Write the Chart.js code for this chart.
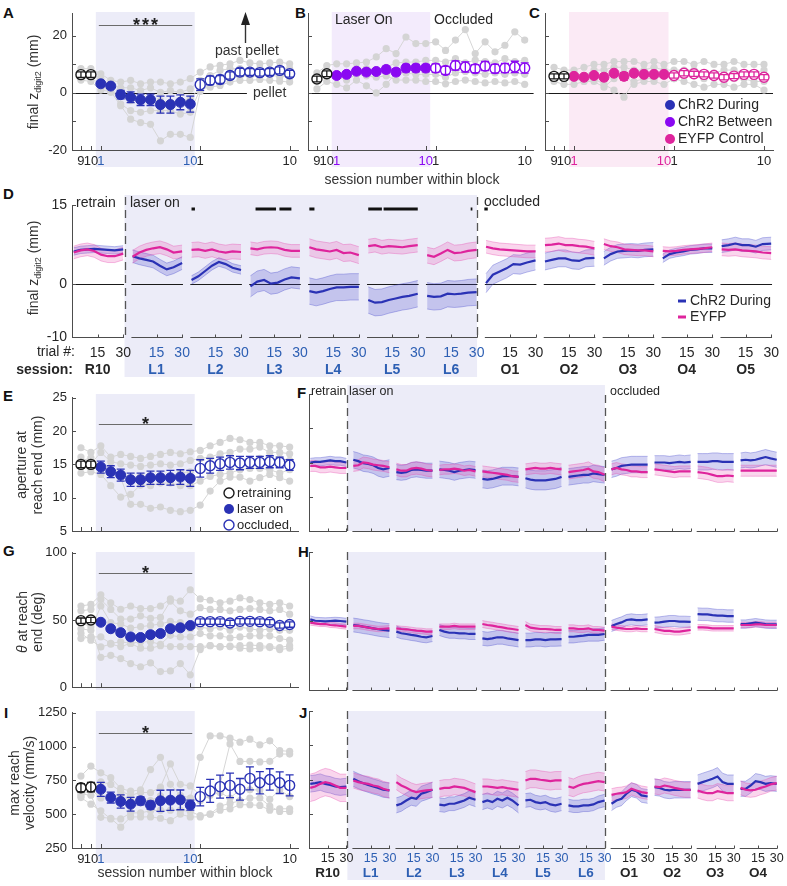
<!DOCTYPE html>
<html>
<head>
<meta charset="utf-8">
<script src="https://cdn.jsdelivr.net/npm/chart.js@4.4.1/dist/chart.umd.min.js"></script>
<style>
  html, body { margin: 0; padding: 0; background: #fff; }
  #fig { position: relative; width: 787px; height: 886px; overflow: hidden; font-family: Arial, "Liberation Sans", sans-serif; }
  #fig canvas { position: absolute; }
  .lt { position: absolute; font-weight: bold; font-size: 15px; line-height: 15px; color: #111; }
</style>
</head>
<body>
<div id="fig">
  <div class="lt" style="left:3px;top:5px">A</div>
  <div class="lt" style="left:295px;top:5px">B</div>
  <div class="lt" style="left:529px;top:5px">C</div>
  <div class="lt" style="left:3px;top:186px">D</div>
  <div class="lt" style="left:3px;top:388px">E</div>
  <div class="lt" style="left:297px;top:385px">F</div>
  <div class="lt" style="left:3px;top:543px">G</div>
  <div class="lt" style="left:298px;top:544px">H</div>
  <div class="lt" style="left:4px;top:705px">I</div>
  <div class="lt" style="left:299px;top:705px">J</div>
</div>
<script>
// ---- session axis: 0-1 retraining, 2-11 laser on, 12-21 occluded
const SESSION_TICKS = [0, 1, 2, 11, 12, 21];
const SESSION_TICK_LABELS = ['9', '10', '1', '10', '1', '10'];

// A: final z digit2 (mm), ChR2 During
const A_GRAY = [
  [8.5, 8.5, 6.7, 4.4, 3.8, 4.4, 3.2, 3.8, 3.8, 3.2, 3.8, 5.0, 7.3, 9.1, 9.7, 10.2, 11.4, 10.5, 10.2, 10.5, 10.8, 10.2],
  [6.0, 7.0, 5.0, 2.6, 1.8, 1.8, 0.8, 1.8, 0.2, 0.8, 0.2, 1.4, 4.4, 6.1, 7.9, 8.5, 8.5, 8.1, 8.5, 8.2, 8.8, 8.5],
  [5.0, 5.5, 2.6, 0.2, -1.0, -2.7, -2.7, -2.7, -2.7, -3.3, -2.7, -2.1, 2.0, 3.2, 4.4, 5.6, 6.1, 5.8, 6.1, 6.4, 5.6, 6.1],
  [7.0, 6.5, 4.4, 2.0, -3.9, -6.2, -6.8, -6.2, -6.2, -6.2, -7.4, -6.8, 1.4, 2.0, 2.6, 3.8, 4.4, 4.4, 4.7, 4.4, 4.1, 3.8],
  [4.5, 4.0, 1.0, 0.5, -4.5, -9.2, -10.4, -11.0, -16.8, -14.5, -14.5, -15.6, 0.5, 3.5, 4.0, 5.5, 5.8, 6.4, 6.0, 6.4, 6.7, 5.3]
];
const A_RETRAIN = [6.4, 6.4];
const A_RETRAIN_ERR = [1.0, 1.0];
const A_LASER = [3.2, 2.4, -0.6, -1.5, -2.4, -2.4, -4.1, -4.1, -3.3, -3.9];
const A_LASER_ERR = [0.8, 0.8, 1.5, 1.9, 2.0, 2.0, 3.0, 3.0, 2.6, 2.8];
const A_OCCL = [2.9, 4.4, 4.7, 6.1, 7.3, 7.3, 7.1, 7.3, 7.9, 6.7];
const A_OCCL_ERR = [2.0, 1.5, 1.4, 1.3, 1.3, 1.2, 1.2, 1.2, 1.2, 1.2];

// B: ChR2 Between
const B_GRAY = [
  [7.0, 9.6, 10.2, 10.2, 10.5, 10.8, 12.6, 15.5, 13.8, 19.6, 17.3, 17.3, 17.9, 14.9, 18.5, 22.2, 13.8, 17.9, 14.4, 16.7, 21.4, 18.5],
  [5.0, 7.5, 6.0, 7.0, 8.0, 8.5, 8.0, 9.0, 10.5, 10.8, 10.8, 11.4, 11.4, 10.8, 12.0, 10.5, 11.5, 11.0, 10.5, 12.0, 11.0, 11.4],
  [1.4, 4.0, 3.0, 1.8, 4.5, 2.5, 0.0, 3.0, 7.0, 7.0, 6.5, 6.5, 6.5, 5.5, 7.0, 7.5, 7.0, 6.5, 7.0, 6.5, 7.0, 6.5],
  [4.5, 6.0, 5.5, 4.5, 6.5, 6.0, 5.5, 6.0, 4.5, 4.5, 4.5, 4.0, 4.0, 3.2, 4.0, 4.5, 4.0, 3.5, 4.0, 3.5, 4.0, 3.0]
];
const B_RETRAIN = [4.9, 6.7];
const B_RETRAIN_ERR = [1.0, 1.0];
const B_LASER = [6.1, 6.5, 7.6, 7.3, 7.5, 8.2, 7.3, 8.7, 8.7, 8.7];
const B_LASER_ERR = [0.9, 0.9, 1.0, 1.0, 1.0, 1.2, 1.2, 1.3, 1.3, 1.3];
const B_OCCL = [8.7, 7.9, 9.6, 9.1, 8.5, 9.4, 8.5, 8.7, 9.1, 8.7];
const B_OCCL_ERR = [1.5, 1.4, 1.6, 1.8, 1.4, 1.6, 1.5, 1.6, 2.0, 1.8];

// C: EYFP Control
const C_GRAY = [
  [9.0, 8.0, 8.0, 9.0, 10.0, 10.0, 11.0, 11.0, 11.0, 10.0, 11.0, 10.0, 11.0, 11.0, 10.0, 11.0, 10.0, 10.0, 11.0, 10.0, 10.0, 10.0],
  [4.0, 3.0, 3.0, 4.0, 4.0, 2.0, 5.0, 7.0, 3.0, 4.0, 4.0, 3.0, 5.0, 4.0, 3.0, 2.0, 3.0, 3.0, 2.0, 3.0, 3.0, 1.0],
  [6.0, 6.0, 7.0, 6.0, 8.0, 8.0, 9.0, 9.0, 8.0, 8.0, 9.0, 8.0, 8.0, 8.0, 8.0, 7.0, 7.0, 8.0, 8.0, 7.0, 7.0, 8.0],
  [5.0, 6.0, 5.0, 4.0, 5.0, 3.0, 1.0, -1.5, 4.0, 5.0, 5.0, 6.0, 5.0, 6.0, 6.0, 5.0, 6.0, 5.0, 5.0, 5.0, 4.0, 4.0]
];
const C_RETRAIN = [5.8, 5.8];
const C_RETRAIN_ERR = [0.9, 0.9];
const C_LASER = [5.8, 5.5, 6.1, 5.5, 6.9, 5.8, 6.9, 6.5, 6.5, 6.5];
const C_LASER_ERR = [0.8, 0.8, 0.9, 1.2, 0.9, 1.3, 0.8, 0.8, 0.8, 0.8];
const C_OCCL = [6.1, 6.9, 6.7, 6.5, 6.1, 5.5, 5.9, 6.5, 6.5, 5.5];
const C_OCCL_ERR = [0.9, 0.9, 0.9, 0.9, 0.9, 0.9, 0.9, 0.9, 0.9, 0.9];

// E: aperture at reach end (mm)
const E_GRAY = [
  [17.5, 16.8, 17.8, 16.1, 16.5, 16.2, 15.9, 16.2, 16.5, 16.8, 16.6, 16.9, 17.1, 17.8, 18.3, 18.9, 18.7, 18.3, 18.3, 17.8, 17.8, 17.6],
  [16.1, 15.1, 16.8, 15.4, 15.1, 14.9, 14.7, 14.9, 15.1, 14.9, 15.1, 15.6, 15.9, 16.1, 16.6, 16.8, 17.3, 17.3, 17.6, 16.8, 16.8, 16.6],
  [14.7, 14.4, 14.4, 13.9, 13.5, 13.0, 13.2, 13.2, 13.3, 13.2, 13.7, 13.9, 14.4, 14.7, 14.9, 15.1, 15.4, 15.6, 15.9, 15.6, 15.9, 15.6],
  [13.7, 13.9, 13.5, 11.8, 10.1, 10.5, 11.9, 11.8, 12.2, 12.2, 11.8, 11.8, 12.5, 13.2, 13.5, 13.7, 14.2, 14.4, 14.4, 14.2, 13.7, 14.2],
  [15.5, 16.0, 14.4, 14.2, 13.0, 9.0, 9.0, 8.4, 8.6, 8.1, 7.9, 8.1, 8.9, 11.0, 12.5, 13.1, 13.1, 12.5, 13.0, 13.5, 13.0, 12.5]
];
const E_RETRAIN = [15.0, 15.0];
const E_RETRAIN_ERR = [0.5, 0.5];
const E_LASER = [14.6, 13.9, 13.4, 12.7, 12.7, 13.0, 13.0, 13.0, 13.1, 12.9];
const E_LASER_ERR = [0.9, 0.9, 0.9, 1.0, 1.0, 1.0, 1.0, 1.1, 1.1, 1.2];
const E_OCCL = [14.4, 14.8, 15.1, 15.3, 15.2, 15.3, 15.3, 15.4, 15.3, 14.9];
const E_OCCL_ERR = [1.3, 1.1, 1.0, 1.0, 1.0, 0.9, 0.9, 0.9, 0.8, 0.8];

// G: theta at reach end (deg)
const G_GRAY = [
  [60.4, 61.6, 68.8, 62.8, 58.0, 60.4, 58.5, 58.5, 60.4, 65.7, 64.0, 72.5, 65.7, 64.7, 62.8, 64.0, 66.4, 65.2, 62.8, 61.6, 62.8, 60.4],
  [56.8, 57.9, 65.2, 57.9, 50.7, 50.7, 53.1, 51.2, 51.9, 64.0, 56.8, 54.3, 59.2, 57.9, 57.9, 56.8, 57.9, 58.5, 57.9, 56.8, 57.9, 54.3],
  [43.5, 42.3, 60.4, 48.0, 47.0, 44.0, 45.0, 46.0, 47.0, 49.0, 48.0, 43.5, 44.7, 43.5, 44.7, 42.3, 44.7, 43.5, 42.3, 43.5, 42.3, 42.3],
  [36.2, 37.4, 37.4, 32.6, 33.8, 32.6, 33.8, 33.8, 31.9, 38.6, 37.4, 37.4, 39.9, 38.2, 38.2, 36.7, 37.4, 38.2, 38.2, 38.2, 36.2, 35.0],
  [40.0, 35.0, 30.0, 32.0, 30.2, 32.6, 29.0, 29.0, 30.9, 30.2, 30.2, 30.2, 30.2, 30.9, 30.2, 30.2, 30.9, 31.4, 30.9, 30.2, 29.5, 30.9],
  [48.0, 45.0, 22.2, 23.7, 21.3, 17.6, 15.2, 18.1, 11.6, 12.1, 17.6, 9.2, 28.0, 31.0, 30.0, 30.5, 29.0, 28.5, 29.0, 29.5, 28.0, 29.0]
];
const G_RETRAIN = [49.5, 50.0];
const G_RETRAIN_ERR = [2, 2];
const G_LASER = [48.3, 43.5, 40.6, 37.4, 37.0, 39.1, 39.9, 43.5, 44.2, 45.9];
const G_LASER_ERR = [2, 2, 2, 2, 2, 2, 2, 2, 2, 2];
const G_OCCL = [48.8, 48.8, 48.8, 47.8, 49.0, 49.0, 48.8, 48.3, 45.9, 46.6];
const G_OCCL_ERR = [2, 2, 2, 2, 2, 2, 2, 2, 2, 2];

// I: max reach velocity (mm/s)
const I_GRAY = [
  [782, 855, 806, 770, 691, 670, 680, 830, 921, 721, 640, 620, 921, 1079, 1079, 1062, 1033, 1055, 1013, 1043, 970, 965],
  [700, 720, 740, 720, 670, 640, 660, 660, 700, 872, 721, 709, 640, 680, 720, 1020, 890, 891, 887, 891, 945, 945],
  [635, 684, 620, 640, 640, 600, 600, 600, 635, 600, 600, 610, 600, 640, 660, 620, 680, 680, 680, 610, 680, 630],
  [623, 574, 525, 465, 465, 510, 510, 525, 530, 530, 530, 520, 489, 500, 530, 540, 570, 570, 565, 530, 540, 540],
  [650, 640, 477, 470, 404, 480, 480, 480, 470, 452, 500, 480, 480, 500, 560, 580, 600, 620, 620, 560, 520, 520]
];
const I_RETRAIN = [696, 701];
const I_RETRAIN_ERR = [30, 35];
const I_LASER = [684, 623, 594, 574, 599, 567, 599, 604, 606, 567];
const I_LASER_ERR = [52, 40, 49, 51, 29, 30, 78, 75, 73, 37];
const I_OCCL = [630, 672, 704, 713, 684, 765, 733, 757, 733, 713];
const I_OCCL_ERR = [69, 85, 85, 91, 80, 85, 82, 79, 80, 78];

// ---- trial-resolved panels: 8 samples per session, R10 | L1-L6 | O1-...
const TRIALS = [1, 5, 9, 13, 17, 21, 25, 30];
const D_SESSIONS = ['R10', 'L1', 'L2', 'L3', 'L4', 'L5', 'L6', 'O1', 'O2', 'O3', 'O4', 'O5'];
const FHJ_SESSIONS = ['R10', 'L1', 'L2', 'L3', 'L4', 'L5', 'L6', 'O1', 'O2', 'O3', 'O4'];

const D_CHR2 = [
  [6.2, 6.5, 6.6, 6.7, 6.6, 6.5, 6.4, 6.6],
  [5.3, 4.9, 4.6, 4.3, 3.5, 2.8, 3.2, 4.0],
  [0.8, 1.5, 2.5, 3.5, 4.2, 3.8, 3.1, 2.7],
  [-0.4, 0.5, 0.8, 0.1, 0.3, 0.9, 1.3, 1.1],
  [-1.3, -1.6, -1.3, -0.9, -0.6, -0.6, -0.5, -0.5],
  [-3.0, -3.5, -3.4, -3.0, -2.7, -2.4, -2.2, -1.8],
  [-2.2, -2.4, -2.3, -1.8, -1.9, -1.8, -1.6, -1.5],
  [0.2, 1.8, 2.4, 3.0, 3.8, 3.7, 4.1, 4.5],
  [4.3, 4.6, 4.9, 4.9, 4.5, 4.4, 4.9, 5.0],
  [4.9, 5.7, 6.2, 6.3, 6.4, 6.3, 6.5, 6.6],
  [4.9, 5.7, 6.0, 6.2, 6.5, 6.6, 6.8, 6.8],
  [7.2, 7.4, 7.7, 7.4, 7.4, 7.1, 7.6, 7.7]
];
const D_CHR2_SEM = [0.7, 1.2, 0.8, 2.0, 2.5, 2.5, 2.5, 1.8, 1.6, 1.3, 0.8, 1.2];
const D_EYFP = [
  [6.0, 6.4, 6.6, 6.3, 5.6, 5.3, 5.3, 5.8],
  [5.2, 6.0, 6.5, 6.8, 7.0, 6.6, 6.0, 6.2],
  [6.5, 6.6, 6.3, 6.6, 6.2, 6.0, 6.2, 6.1],
  [6.8, 6.6, 6.9, 7.0, 6.9, 6.5, 6.3, 6.3],
  [7.0, 6.6, 6.4, 6.2, 6.5, 5.9, 6.0, 5.5],
  [7.2, 7.4, 7.0, 7.2, 7.1, 7.0, 7.2, 7.4],
  [5.5, 5.2, 5.8, 6.5, 5.9, 6.0, 6.3, 6.5],
  [7.1, 6.8, 6.6, 6.5, 6.4, 6.3, 6.2, 6.2],
  [7.4, 7.5, 7.7, 7.4, 7.4, 7.2, 7.1, 6.8],
  [7.6, 7.2, 7.0, 6.6, 6.5, 6.4, 6.4, 6.2],
  [6.3, 6.2, 6.3, 6.5, 6.6, 6.7, 6.8, 7.0],
  [6.6, 6.5, 6.6, 6.4, 6.3, 6.2, 6.0, 5.9]
];
const D_EYFP_SEM = [1.2, 1.2, 1.4, 1.2, 1.6, 1.3, 1.5, 1.2, 1.3, 1.0, 0.8, 1.2];
// significant trial runs in D: [session index, first trial, last trial]
const D_SIG = [[2, 1, 3], [3, 4, 16], [3, 18, 25], [4, 1, 4], [5, 1, 9], [5, 10, 30], [6, 26.5, 27.5], [7, 0, 2]];

const F_CHR2 = [
  [15.0, 15.1, 15.1, 15.2, 15.3, 15.2, 15.2, 15.0],
  [15.4, 15.2, 14.9, 14.8, 14.6, 14.2, 14.0, 14.2],
  [13.6, 13.5, 13.6, 13.9, 14.0, 13.9, 13.8, 13.8],
  [14.0, 13.9, 13.8, 13.6, 13.8, 13.9, 14.0, 13.9],
  [12.6, 12.5, 12.6, 12.8, 13.0, 13.0, 13.0, 12.9],
  [12.7, 12.5, 12.4, 12.4, 12.4, 12.5, 12.6, 12.9],
  [12.9, 13.0, 13.1, 13.2, 13.2, 13.4, 13.3, 13.2],
  [14.0, 14.2, 14.5, 14.6, 14.7, 14.7, 14.7, 14.7],
  [15.0, 15.0, 15.0, 14.9, 15.0, 15.1, 15.0, 15.1],
  [15.1, 15.1, 15.1, 15.2, 15.2, 15.1, 15.1, 15.1],
  [15.3, 15.4, 15.3, 15.4, 15.6, 15.8, 15.6, 15.4]
];
const F_CHR2_SEM = [0.6, 1.2, 1.1, 1.2, 1.3, 1.4, 1.2, 1.2, 1.0, 1.2, 1.1];
const F_EYFP = [
  [14.5, 14.5, 14.3, 14.3, 14.4, 14.3, 14.2, 14.2],
  [14.5, 14.6, 15.0, 14.9, 14.7, 14.6, 14.5, 14.3],
  [14.0, 13.8, 13.8, 14.1, 14.2, 14.1, 13.9, 13.8],
  [13.9, 14.0, 14.0, 14.1, 14.0, 13.8, 13.9, 13.7],
  [13.7, 13.6, 13.5, 13.4, 13.3, 13.2, 13.0, 12.9],
  [14.0, 14.1, 14.2, 14.1, 14.1, 14.2, 14.1, 14.0],
  [13.6, 13.7, 13.8, 13.9, 14.1, 13.7, 13.6, 13.2],
  [14.0, 14.2, 14.0, 13.9, 13.7, 13.7, 13.6, 13.6],
  [14.0, 13.9, 13.8, 13.7, 13.6, 13.7, 13.7, 13.7],
  [13.6, 13.5, 13.4, 13.2, 13.0, 13.0, 13.1, 13.0],
  [13.8, 13.8, 13.8, 13.8, 13.8, 13.8, 13.8, 13.8]
];
const F_EYFP_SEM = [0.8, 0.8, 0.9, 0.7, 0.8, 0.8, 1.0, 0.8, 0.8, 0.9, 0.8];

const H_CHR2 = [
  [51.2, 50.2, 50.0, 49.8, 50.0, 50.2, 50.0, 49.5],
  [47.1, 46.6, 45.9, 45.4, 44.7, 44.0, 43.5, 43.0],
  [42.3, 41.1, 40.6, 39.9, 39.4, 38.6, 38.2, 39.1],
  [43.5, 42.3, 41.5, 41.5, 41.1, 41.1, 40.6, 40.6],
  [37.4, 36.9, 37.4, 38.2, 38.2, 37.4, 36.9, 36.2],
  [36.2, 36.2, 36.7, 36.7, 36.2, 36.7, 36.7, 36.9],
  [38.6, 38.6, 39.1, 39.4, 39.9, 39.9, 39.9, 40.6],
  [46.4, 47.8, 49.0, 50.7, 51.2, 50.7, 50.7, 51.2],
  [48.8, 49.0, 49.5, 50.0, 50.0, 49.5, 49.5, 49.3],
  [55.0, 54.8, 54.8, 54.3, 53.9, 53.9, 53.6, 53.6],
  [47.8, 47.8, 48.3, 48.8, 48.3, 47.8, 47.6, 47.6]
];
const H_CHR2_SEM = [2.5, 5, 4, 4, 5, 5, 4.5, 4, 4, 4.5, 3];
const H_EYFP = [
  [48.8, 48.3, 47.8, 47.8, 47.1, 46.9, 46.4, 45.9],
  [46.4, 46.4, 45.9, 45.2, 44.7, 44.2, 44.4, 44.7],
  [44.7, 44.2, 44.0, 43.5, 43.0, 42.8, 42.3, 42.3],
  [45.9, 45.9, 45.9, 46.4, 45.9, 45.9, 45.9, 45.9],
  [47.8, 47.1, 46.6, 45.9, 45.4, 44.7, 44.2, 43.5],
  [47.1, 45.2, 44.7, 44.2, 44.2, 44.0, 43.5, 43.5],
  [44.7, 44.7, 44.2, 44.2, 44.7, 43.5, 43.5, 43.0],
  [45.9, 45.2, 44.7, 44.2, 44.2, 44.7, 44.2, 44.2],
  [44.2, 43.5, 42.8, 42.8, 42.3, 42.3, 42.8, 43.5],
  [45.4, 45.4, 45.2, 44.7, 44.7, 44.7, 44.7, 44.7],
  [47.1, 47.1, 47.1, 47.6, 47.6, 47.1, 47.1, 47.1]
];
const H_EYFP_SEM = [1.8, 2, 2, 2, 2.5, 2.5, 2.5, 2, 2.5, 2, 2];

const J_CHR2 = [
  [718, 723, 731, 718, 711, 699, 694, 699],
  [755, 738, 723, 711, 699, 689, 675, 670],
  [561, 573, 597, 617, 609, 646, 658, 675],
  [566, 561, 573, 573, 585, 597, 617, 602],
  [585, 597, 585, 609, 597, 617, 597, 561],
  [597, 602, 585, 578, 585, 568, 561, 573],
  [561, 554, 554, 561, 561, 568, 585, 597],
  [573, 597, 609, 646, 675, 665, 634, 626],
  [694, 689, 675, 670, 675, 675, 675, 675],
  [718, 731, 743, 755, 772, 731, 718, 718],
  [682, 682, 706, 738, 731, 718, 723, 718]
];
const J_CHR2_SEM = [60, 55, 55, 50, 55, 50, 45, 50, 60, 65, 55];
const J_EYFP = [
  [689, 699, 718, 731, 723, 706, 689, 689],
  [743, 731, 723, 718, 706, 699, 682, 670],
  [731, 706, 689, 670, 658, 665, 670, 675],
  [682, 689, 689, 699, 694, 689, 675, 658],
  [699, 699, 694, 689, 694, 687, 682, 675],
  [743, 755, 755, 748, 743, 738, 743, 743],
  [699, 689, 706, 718, 723, 731, 738, 731],
  [638, 646, 650, 658, 682, 670, 658, 650],
  [699, 694, 706, 699, 689, 682, 675, 675],
  [670, 658, 650, 650, 665, 658, 650, 650],
  [689, 675, 670, 675, 689, 699, 714, 723]
];
const J_EYFP_SEM = [100, 55, 55, 60, 55, 65, 65, 45, 55, 55, 50];

// ---- styling
const FONT = 'Arial, "Liberation Sans", Helvetica, sans-serif';
const INK = '#262626';
const AXIS = '#4d4d4d';
const BLUE = '#2a32b5';
const PURPLE = '#8a08f2';
const MAGENTA = '#de249c';
const LASER_TXT = '#2d5fb3';
const GRAY_PT = '#d4d4d4';
const SHADE_BLUE = '#ececf8';
const SHADE_PURPLE = '#f3ebfc';
const SHADE_PINK = '#fbeaf5';
const BLUE_BAND = 'rgba(70, 72, 205, 0.24)';
const BLUE_EDGE = 'rgba(70, 72, 205, 0.45)';
const PINK_BAND = 'rgba(230, 70, 175, 0.22)';
const PINK_EDGE = 'rgba(230, 70, 175, 0.45)';
const SEG_STEP = 34.5;
const LASER_FROM = 30.75, LASER_TO = 6 * SEG_STEP + 30.25;

Chart.defaults.font.family = FONT;
Chart.defaults.color = INK;

const fig = document.getElementById('fig');
function place(id, left, top, w, h) {
  const c = document.createElement('canvas');
  c.id = 'c' + id; c.width = w; c.height = h;
  c.style.left = left + 'px'; c.style.top = top + 'px';
  c.style.width = w + 'px'; c.style.height = h + 'px';
  fig.appendChild(c);
  return c;
}

// fixes the chart area to box {l,t,r,b} inside a W x H canvas
function frame(W, H, box) {
  return {
    layout: { padding: { left: 0, top: box.t, right: W - box.r, bottom: 0 } },
    fitX: s => { s.height = H - box.b; },
    fitY: s => { s.width = box.l; }
  };
}

function txt(ctx, s, x, y, o = {}) {
  ctx.save();
  ctx.font = (o.italic ? 'italic ' : '') + (o.bold ? 'bold ' : '') + (o.size || 14) + 'px ' + FONT;
  ctx.fillStyle = o.color || INK;
  ctx.textAlign = o.align || 'left';
  ctx.textBaseline = o.base || 'middle';
  ctx.fillText(s, x, y);
  ctx.restore();
}

function seg(ctx, x0, y0, x1, y1, color, w, dash) {
  ctx.save();
  ctx.strokeStyle = color; ctx.lineWidth = w || 1;
  if (dash) ctx.setLineDash(dash);
  ctx.beginPath(); ctx.moveTo(x0, y0); ctx.lineTo(x1, y1); ctx.stroke();
  ctx.restore();
}

function dot(ctx, x, y, r, fill, stroke) {
  ctx.save();
  ctx.beginPath(); ctx.arc(x, y, r, 0, Math.PI * 2);
  if (fill) { ctx.fillStyle = fill; ctx.fill(); }
  if (stroke) { ctx.strokeStyle = stroke; ctx.lineWidth = 1.4; ctx.stroke(); }
  ctx.restore();
}

function yInnerTicks(ch) {
  const { ctx, chartArea: a, scales: { y } } = ch;
  y.ticks.forEach(t => {
    const py = Math.round(y.getPixelForValue(t.value)) + 0.5;
    seg(ctx, a.left, py, a.left + 4, py, AXIS, 1);
  });
}

// rotated y title, each line is a list of parts {t, italic, sub}
function yTitle(ctx, lines, cx, cy, size, gap) {
  ctx.save();
  ctx.translate(cx, cy); ctx.rotate(-Math.PI / 2);
  ctx.fillStyle = '#333'; ctx.textBaseline = 'middle'; ctx.textAlign = 'left';
  lines.forEach((parts, i) => {
    const yy = (i - (lines.length - 1) / 2) * gap;
    const fontOf = p => (p.italic ? 'italic ' : '') + (p.sub ? Math.round(size * 0.65) : size) + 'px ' + FONT;
    const widths = parts.map(p => { ctx.font = fontOf(p); return ctx.measureText(p.t).width; });
    let xx = -widths.reduce((a, b) => a + b, 0) / 2;
    parts.forEach((p, j) => {
      ctx.font = fontOf(p);
      ctx.fillText(p.t, xx, yy + (p.sub ? size * 0.3 : 0));
      xx += widths[j];
    });
  });
  ctx.restore();
}

function sigBar(ch, k0, k1, yv, stars) {
  const { ctx, scales: { x, y } } = ch;
  const py = Math.round(y.getPixelForValue(yv)) + 0.5;
  seg(ctx, x.getPixelForValue(k0), py, x.getPixelForValue(k1), py, '#6b6b6b', 1.2);
  const cx = x.getPixelForValue((k0 + k1) / 2);
  for (let i = 0; i < stars; i++) {
    txt(ctx, '*', cx + (i - (stars - 1) / 2) * 9, py + 5, { size: 18, bold: true, align: 'center', base: 'alphabetic', color: '#222' });
  }
}

// ---------- session-number panels
function sessionPanel(o) {
  const c = place(o.id, o.left, o.top, o.W, o.H);
  const f = frame(o.W, o.H, o.box);
  const pts = (vals, k0) => vals.map((v, i) => ({ x: k0 + i, y: v }));
  const datasets = o.gray.map(g => ({
    data: pts(g, 0), borderColor: '#d6d6d6', borderWidth: 1,
    pointRadius: 3.6, pointBackgroundColor: GRAY_PT, pointBorderWidth: 0, order: 9
  }));
  datasets.push(
    { data: pts(o.retrain, 0), errs: o.retrainErr, showLine: false, pointRadius: 5, pointBorderWidth: 1.4,
      pointBorderColor: '#1a1a1a', pointBackgroundColor: '#fff', borderColor: '#1a1a1a', order: 1 },
    { data: pts(o.laser, 2), errs: o.laserErr, showLine: false, pointRadius: 5, pointBorderWidth: 1,
      pointBorderColor: o.color, pointBackgroundColor: o.color, borderColor: o.color, order: 1 },
    { data: pts(o.occl, 12), errs: o.occlErr, showLine: false, pointRadius: 5, pointBorderWidth: 1.4,
      pointBorderColor: o.color, pointBackgroundColor: '#fff', borderColor: o.color, order: 1 }
  );
  return new Chart(c, {
    type: 'line',
    data: { datasets },
    options: {
      responsive: false, animation: false, events: [],
      layout: f.layout,
      plugins: { legend: { display: false }, tooltip: { enabled: false } },
      scales: {
        x: {
          type: 'linear', min: -0.9, max: 21.9, afterFit: f.fitX,
          afterBuildTicks: s => { s.ticks = SESSION_TICKS.map(v => ({ value: v })); },
          grid: { display: false, drawTicks: false },
          border: { display: true, color: AXIS },
          ticks: {
            display: o.xLabels, autoSkip: false, maxRotation: 0, padding: 4,
            font: { size: 13 },
            color: ctx => (ctx.index === 2 || ctx.index === 3) ? o.labelColor : INK,
            callback: (v, i) => SESSION_TICK_LABELS[i]
          }
        },
        y: {
          min: o.ymin, max: o.ymax, afterFit: f.fitY,
          afterBuildTicks: s => { s.ticks = o.yTicks.map(v => ({ value: v })); },
          grid: { display: false, drawTicks: false },
          border: { display: true, color: AXIS },
          ticks: {
            display: !!o.yLabels, padding: 5, font: { size: 13 }, color: INK,
            callback: v => (o.yLabels && o.yLabels.includes(v)) ? String(v) : ''
          }
        }
      }
    },
    plugins: [{
      id: 'session' + o.id,
      beforeDraw(ch) {
        const { ctx, scales: { x } } = ch;
        const x0 = x.getPixelForValue(1.5), x1 = x.getPixelForValue(11.45);
        ctx.save(); ctx.fillStyle = o.shade;
        ctx.fillRect(x0, o.shadeTop, x1 - x0, o.shadeBottom - o.shadeTop);
        ctx.restore();
      },
      beforeDatasetsDraw(ch) {
        if (o.zeroTo === undefined) return;
        const { ctx, chartArea: a, scales: { x, y } } = ch;
        const py = Math.round(y.getPixelForValue(0)) + 0.5;
        seg(ctx, a.left, py, x.getPixelForValue(o.zeroTo), py, '#1a1a1a', 1);
      },
      afterDatasetsDraw(ch) {
        const { ctx, scales: { x, y } } = ch;
        ch.data.datasets.forEach(d => {
          if (!d.errs) return;
          d.data.forEach((p, i) => {
            const px = x.getPixelForValue(p.x);
            const y0 = y.getPixelForValue(p.y - d.errs[i]);
            const y1 = y.getPixelForValue(p.y + d.errs[i]);
            ctx.save();
            ctx.strokeStyle = d.borderColor; ctx.lineWidth = 1.3;
            ctx.beginPath();
            ctx.moveTo(px, y0); ctx.lineTo(px, y1);
            ctx.moveTo(px - 4, y0); ctx.lineTo(px + 4, y0);
            ctx.moveTo(px - 4, y1); ctx.lineTo(px + 4, y1);
            ctx.stroke(); ctx.restore();
          });
        });
      },
      afterDraw(ch) {
        const { ctx, chartArea: a, scales: { x } } = ch;
        yInnerTicks(ch);
        SESSION_TICKS.forEach(k => {
          const px = Math.round(x.getPixelForValue(k)) + 0.5;
          seg(ctx, px, a.bottom, px, a.bottom - 4, AXIS, 1);
        });
        if (o.after) o.after(ch);
      }
    }]
  });
}

// ---------- trial-resolved panels
function segmentPanel(o) {
  const c = place(o.id, o.left, o.top, o.W, o.H);
  const f = frame(o.W, o.H, o.box);
  const nSeg = o.chr2.length;
  const track = (vals, sem, sign) => {
    const out = [];
    vals.forEach((sv, s) => {
      sv.forEach((v, i) => out.push({ x: s * SEG_STEP + TRIALS[i], y: sem ? v + sign * sem[s] : v }));
      out.push({ x: s * SEG_STEP + 32, y: null });
    });
    return out;
  };
  const line = (data, color, w, order, extra) =>
    Object.assign({ data, borderColor: color, borderWidth: w, pointRadius: 0, fill: false, order }, extra || {});
  const datasets = [
    line(track(o.chr2, o.chr2Sem, 1), BLUE_EDGE, 0.8, 4, { fill: '+1', backgroundColor: BLUE_BAND }),
    line(track(o.chr2, o.chr2Sem, -1), BLUE_EDGE, 0.8, 4),
    line(track(o.eyfp, o.eyfpSem, 1), PINK_EDGE, 0.8, 3, { fill: '+1', backgroundColor: PINK_BAND }),
    line(track(o.eyfp, o.eyfpSem, -1), PINK_EDGE, 0.8, 3),
    line(track(o.chr2), BLUE, 2.2, 2),
    line(track(o.eyfp), MAGENTA, 2.2, 1)
  ];
  const tickVals = [];
  for (let s = 0; s < nSeg; s++) tickVals.push(s * SEG_STEP + 15, s * SEG_STEP + 30);
  const isLaser = s => s >= 1 && s <= 6;
  return new Chart(c, {
    type: 'line',
    data: { datasets },
    options: {
      responsive: false, animation: false, events: [],
      layout: f.layout,
      plugins: { legend: { display: false }, tooltip: { enabled: false } },
      scales: {
        x: {
          type: 'linear', min: 0, max: (nSeg - 1) * SEG_STEP + 31, afterFit: f.fitX,
          afterBuildTicks: s => { s.ticks = tickVals.map(v => ({ value: v })); },
          grid: { display: false, drawTicks: false },
          border: { display: false },
          ticks: {
            display: !!o.tickFont, autoSkip: false, maxRotation: 0,
            padding: o.tickPad || 0, font: { size: o.tickFont || 12 },
            color: ctx => isLaser(Math.floor(ctx.index / 2)) ? LASER_TXT : INK,
            callback: (v, i) => (i % 2 === 0 ? '15' : '30')
          }
        },
        y: {
          min: o.ymin, max: o.ymax, afterFit: f.fitY,
          afterBuildTicks: s => { s.ticks = o.yTicks.map(v => ({ value: v })); },
          grid: { display: false, drawTicks: false },
          border: { display: true, color: AXIS },
          ticks: { display: !!o.yLabels, padding: 5, font: { size: 14 }, color: INK }
        }
      }
    },
    plugins: [{
      id: 'segment' + o.id,
      beforeDraw(ch) {
        const { ctx, scales: { x } } = ch;
        const x0 = x.getPixelForValue(LASER_FROM), x1 = x.getPixelForValue(LASER_TO);
        ctx.save(); ctx.fillStyle = SHADE_BLUE;
        ctx.fillRect(x0, o.shadeTop, x1 - x0, o.shadeBottom - o.shadeTop);
        ctx.restore();
      },
      beforeDatasetsDraw(ch) {
        if (!o.zeroLines) return;
        const { ctx, chartArea: a, scales: { x, y } } = ch;
        const py = Math.round(y.getPixelForValue(0)) + 0.5;
        for (let s = 0; s < nSeg; s++) {
          const x0 = s === 0 ? a.left : x.getPixelForValue(s * SEG_STEP + 0.3);
          seg(ctx, x0, py, x.getPixelForValue(s * SEG_STEP + 30.5), py, '#1a1a1a', 1);
        }
      },
      afterDraw(ch) {
        const { ctx, chartArea: a, scales: { x } } = ch;
        const by = Math.round(a.bottom) + 0.5;
        for (let s = 0; s < nSeg; s++) {
          const x0 = s === 0 ? a.left : x.getPixelForValue(s * SEG_STEP + 0.3);
          seg(ctx, x0, by, x.getPixelForValue(s * SEG_STEP + 30.5), by, AXIS, 1);
          [15, 30].forEach(t => {
            const px = Math.round(x.getPixelForValue(s * SEG_STEP + t)) + 0.5;
            seg(ctx, px, by, px, by - 3, AXIS, 1);
          });
          if (o.sessionY) {
            txt(ctx, o.sessions[s], x.getPixelForValue(s * SEG_STEP + 15), o.sessionY,
              { bold: true, size: o.sessionSize, align: 'center', color: isLaser(s) ? LASER_TXT : INK });
          }
        }
        [LASER_FROM, LASER_TO].forEach(v => {
          const px = Math.round(x.getPixelForValue(v)) + 0.5;
          seg(ctx, px, o.dashTop, px, a.bottom, '#555', 1.3, [8, 5]);
        });
        yInnerTicks(ch);
        if (o.after) o.after(ch);
      }
    }]
  });
}

const Z_TITLE = [[{ t: 'final z' }, { t: 'digit2', sub: true }, { t: ' (mm)' }]];

// A
sessionPanel({
  id: 'A', left: 0, top: 0, W: 305, H: 190, box: { l: 72, t: 13, r: 300, b: 150 },
  ymin: -20, ymax: 28, yTicks: [-20, -10, 0, 10, 20], yLabels: [-20, 0, 20],
  gray: A_GRAY, retrain: A_RETRAIN, retrainErr: A_RETRAIN_ERR, laser: A_LASER, laserErr: A_LASER_ERR,
  occl: A_OCCL, occlErr: A_OCCL_ERR, color: BLUE, labelColor: LASER_TXT, shade: SHADE_BLUE,
  shadeTop: 12, shadeBottom: 167, xLabels: true, zeroTo: 16.7,
  after: ch => {
    const { ctx, scales: { y } } = ch;
    sigBar(ch, 1.8, 11.2, 23.9, 3);
    txt(ctx, 'past pellet', 215, 51, { size: 14, color: '#333' });
    txt(ctx, 'pellet', 253, y.getPixelForValue(0), { size: 14, color: '#333' });
    seg(ctx, 245.5, 43, 245.5, 22, '#333', 1.4);
    ctx.save(); ctx.fillStyle = '#222';
    ctx.beginPath(); ctx.moveTo(245.5, 12); ctx.lineTo(241, 25); ctx.lineTo(250, 25); ctx.closePath(); ctx.fill();
    ctx.restore();
    yTitle(ctx, Z_TITLE, 34, 82, 14, 16);
  }
});

// B
sessionPanel({
  id: 'B', left: 300, top: 0, W: 240, H: 190, box: { l: 8, t: 13, r: 237, b: 150 },
  ymin: -20, ymax: 28, yTicks: [-20, -10, 0, 10, 20], yLabels: null,
  gray: B_GRAY, retrain: B_RETRAIN, retrainErr: B_RETRAIN_ERR, laser: B_LASER, laserErr: B_LASER_ERR,
  occl: B_OCCL, occlErr: B_OCCL_ERR, color: PURPLE, labelColor: PURPLE, shade: SHADE_PURPLE,
  shadeTop: 12, shadeBottom: 167, xLabels: true, zeroTo: 21.9,
  after: ch => {
    const { ctx } = ch;
    txt(ctx, 'Laser On', 35, 20, { size: 14 });
    txt(ctx, 'Occluded', 134, 20, { size: 14 });
    txt(ctx, 'session number within block', 112, 180, { size: 14, align: 'center', color: '#333' });
  }
});

// C
sessionPanel({
  id: 'C', left: 520, top: 0, W: 267, H: 190, box: { l: 25, t: 13, r: 253, b: 150 },
  ymin: -20, ymax: 28, yTicks: [-20, -10, 0, 10, 20], yLabels: null,
  gray: C_GRAY, retrain: C_RETRAIN, retrainErr: C_RETRAIN_ERR, laser: C_LASER, laserErr: C_LASER_ERR,
  occl: C_OCCL, occlErr: C_OCCL_ERR, color: MAGENTA, labelColor: MAGENTA, shade: SHADE_PINK,
  shadeTop: 12, shadeBottom: 167, xLabels: true, zeroTo: 21.9,
  after: ch => {
    const { ctx } = ch;
    [['ChR2 During', BLUE], ['ChR2 Between', PURPLE], ['EYFP Control', MAGENTA]].forEach(([name, col], i) => {
      dot(ctx, 150, 105 + i * 17, 5, col);
      txt(ctx, name, 158, 105 + i * 17, { size: 14 });
    });
  }
});

// D
segmentPanel({
  id: 'D', left: 0, top: 190, W: 787, H: 195, box: { l: 72, t: 15, r: 775, b: 147 },
  ymin: -10, ymax: 15, yTicks: [-10, 0, 15], yLabels: true,
  chr2: D_CHR2, chr2Sem: D_CHR2_SEM, eyfp: D_EYFP, eyfpSem: D_EYFP_SEM, sessions: D_SESSIONS,
  shadeTop: 5, shadeBottom: 187, dashTop: 7, zeroLines: true,
  tickFont: 14, tickPad: 8, sessionY: 180, sessionSize: 14,
  after: ch => {
    const { ctx, scales: { x } } = ch;
    txt(ctx, 'trial #:', 75, 162, { size: 14, align: 'right' });
    txt(ctx, 'session:', 73, 180, { size: 14, bold: true, align: 'right' });
    txt(ctx, 'retrain', 76, 13, { size: 14 });
    txt(ctx, 'laser on', 130, 13, { size: 14 });
    txt(ctx, 'occluded', 484, 12, { size: 14 });
    D_SIG.forEach(([s, t0, t1]) => {
      seg(ctx, x.getPixelForValue(s * SEG_STEP + t0), 19, x.getPixelForValue(s * SEG_STEP + t1), 19, '#111', 3);
    });
    seg(ctx, 678, 111, 686, 111, BLUE, 3);
    txt(ctx, 'ChR2 During', 690, 111, { size: 14 });
    seg(ctx, 678, 127, 686, 127, MAGENTA, 3);
    txt(ctx, 'EYFP', 690, 127, { size: 14 });
    yTitle(ctx, Z_TITLE, 34, 78, 14, 16);
  }
});

// E
sessionPanel({
  id: 'E', left: 0, top: 385, W: 305, H: 165, box: { l: 72, t: 9, r: 300, b: 146 },
  ymin: 5, ymax: 25, yTicks: [5, 10, 15, 20, 25], yLabels: [5, 10, 15, 20, 25],
  gray: E_GRAY, retrain: E_RETRAIN, retrainErr: E_RETRAIN_ERR, laser: E_LASER, laserErr: E_LASER_ERR,
  occl: E_OCCL, occlErr: E_OCCL_ERR, color: BLUE, labelColor: LASER_TXT, shade: SHADE_BLUE,
  shadeTop: 9, shadeBottom: 146, xLabels: false,
  after: ch => {
    const { ctx } = ch;
    sigBar(ch, 1.8, 11.2, 21.1, 1);
    dot(ctx, 229, 108, 5, '#fff', '#1a1a1a');
    txt(ctx, 'retraining', 237, 108, { size: 13 });
    dot(ctx, 229, 124, 5, BLUE);
    txt(ctx, 'laser on', 237, 124, { size: 13 });
    dot(ctx, 229, 140, 5, '#fff', BLUE);
    txt(ctx, 'occluded', 237, 140, { size: 13 });
    yTitle(ctx, [[{ t: 'aperture at' }], [{ t: 'reach end (mm)' }]], 30, 80, 14, 16);
  }
});

// F
segmentPanel({
  id: 'F', left: 290, top: 385, W: 497, H: 165, box: { l: 19, t: 9, r: 488, b: 146 },
  ymin: 5, ymax: 25, yTicks: [5, 10, 15, 20, 25], yLabels: false,
  chr2: F_CHR2, chr2Sem: F_CHR2_SEM, eyfp: F_EYFP, eyfpSem: F_EYFP_SEM, sessions: FHJ_SESSIONS,
  shadeTop: 0, shadeBottom: 146, dashTop: 10,
  after: ch => {
    const { ctx } = ch;
    txt(ctx, 'retrain', 21, 7, { size: 12.5 });
    txt(ctx, 'laser on', 59, 7, { size: 12.5 });
    txt(ctx, 'occluded', 320, 7, { size: 12.5 });
  }
});

// G
sessionPanel({
  id: 'G', left: 0, top: 540, W: 305, H: 160, box: { l: 72, t: 12, r: 300, b: 150 },
  ymin: 0, ymax: 100, yTicks: [0, 50, 100], yLabels: [0, 50, 100],
  gray: G_GRAY, retrain: G_RETRAIN, retrainErr: G_RETRAIN_ERR, laser: G_LASER, laserErr: G_LASER_ERR,
  occl: G_OCCL, occlErr: G_OCCL_ERR, color: BLUE, labelColor: LASER_TXT, shade: SHADE_BLUE,
  shadeTop: 12, shadeBottom: 150, xLabels: false,
  after: ch => {
    sigBar(ch, 1.8, 11.2, 84.8, 1);
    yTitle(ch.ctx, [[{ t: 'θ', italic: true }, { t: ' at reach' }], [{ t: 'end (deg)' }]], 31, 82, 14, 15);
  }
});

// H
segmentPanel({
  id: 'H', left: 290, top: 540, W: 497, H: 160, box: { l: 19, t: 12, r: 488, b: 150 },
  ymin: 0, ymax: 100, yTicks: [0, 50, 100], yLabels: false,
  chr2: H_CHR2, chr2Sem: H_CHR2_SEM, eyfp: H_EYFP, eyfpSem: H_EYFP_SEM, sessions: FHJ_SESSIONS,
  shadeTop: 12, shadeBottom: 150, dashTop: 12
});

// I
sessionPanel({
  id: 'I', left: 0, top: 700, W: 305, H: 186, box: { l: 72, t: 11, r: 300, b: 148 },
  ymin: 250, ymax: 1250, yTicks: [250, 500, 750, 1000, 1250], yLabels: [250, 500, 750, 1000, 1250],
  gray: I_GRAY, retrain: I_RETRAIN, retrainErr: I_RETRAIN_ERR, laser: I_LASER, laserErr: I_LASER_ERR,
  occl: I_OCCL, occlErr: I_OCCL_ERR, color: BLUE, labelColor: LASER_TXT, shade: SHADE_BLUE,
  shadeTop: 11, shadeBottom: 163, xLabels: true,
  after: ch => {
    const { ctx } = ch;
    sigBar(ch, 1.8, 11.2, 1104, 1);
    yTitle(ctx, [[{ t: 'max reach' }], [{ t: 'velocity (mm/s)' }]], 23, 83, 14, 15);
    txt(ctx, 'session number within block', 185, 173, { size: 14, align: 'center', color: '#333' });
  }
});

// J
segmentPanel({
  id: 'J', left: 290, top: 700, W: 497, H: 186, box: { l: 19, t: 11, r: 488, b: 148 },
  ymin: 250, ymax: 1250, yTicks: [250, 500, 750, 1000, 1250], yLabels: false,
  chr2: J_CHR2, chr2Sem: J_CHR2_SEM, eyfp: J_EYFP, eyfpSem: J_EYFP_SEM, sessions: FHJ_SESSIONS,
  shadeTop: 11, shadeBottom: 180, dashTop: 11,
  tickFont: 12.5, tickPad: 3, sessionY: 173, sessionSize: 13.5
});
</script>
</body>
</html>
